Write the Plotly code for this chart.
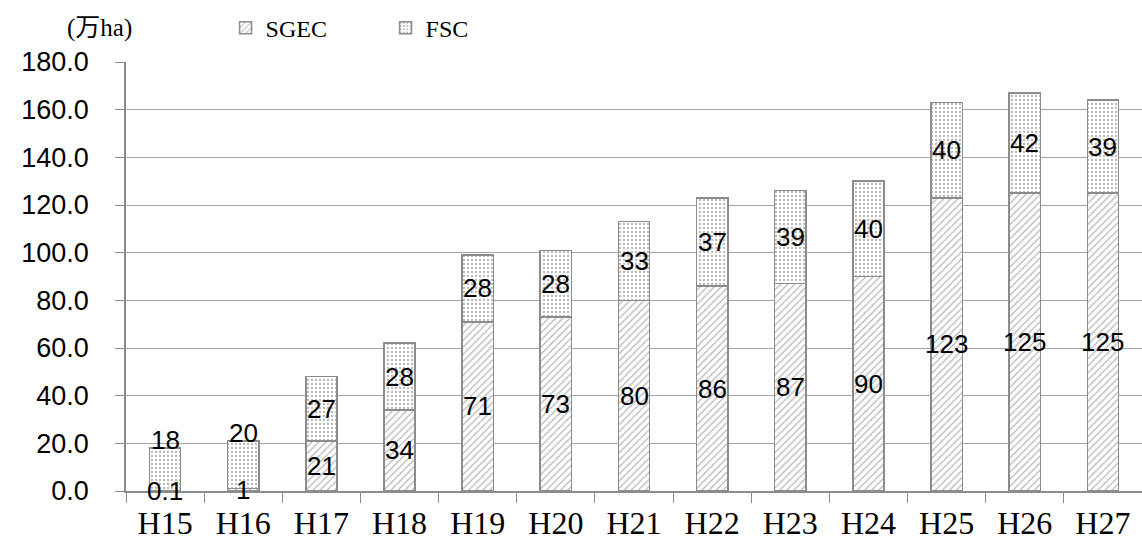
import plotly.graph_objects as go

categories = ["H15", "H16", "H17", "H18", "H19", "H20", "H21", "H22", "H23", "H24", "H25", "H26", "H27"]
sgec = [0.1, 1, 21, 34, 71, 73, 80, 86, 87, 90, 123, 125, 125]
fsc = [18, 20, 27, 28, 28, 28, 33, 37, 39, 40, 40, 42, 39]
y_ticks = [0, 20, 40, 60, 80, 100, 120, 140, 160, 180]

LINE = "#8c8c8c"
SANS = "Liberation Sans, Arial, sans-serif"
SERIF = "Liberation Serif, Noto Sans CJK JP, serif"

fig = go.Figure()
fig.add_trace(go.Bar(
    x=categories, y=sgec, name="SGEC",
    marker=dict(color="white", line=dict(color=LINE, width=1.5),
                pattern=dict(shape="/", fgcolor="#6e6e6e", bgcolor="white", size=5, solidity=0.25)),
))
fig.add_trace(go.Bar(
    x=categories, y=fsc, name="FSC",
    marker=dict(color="white", line=dict(color=LINE, width=1.5),
                pattern=dict(shape=".", fgcolor="#6e6e6e", bgcolor="white", size=4, solidity=0.25)),
))

def fmt(v):
    return f"{v:g}"

for c, s, f in zip(categories, sgec, fsc):
    fig.add_annotation(x=c, y=s / 2, text=fmt(s), showarrow=False,
                       font=dict(family=SANS, size=26, color="black"), yanchor="middle")
    fy = s + f / 2 if s >= 5 else s + f + 3.5
    fig.add_annotation(x=c, y=fy, text=fmt(f), showarrow=False,
                       font=dict(family=SANS, size=26, color="black"), yanchor="middle")

fig.add_annotation(xref="paper", yref="paper", x=-0.026, y=1.079, text="(万ha)",
                   showarrow=False, xanchor="center", yanchor="middle",
                   font=dict(family=SERIF, size=25, color="black"))

fig.update_layout(
    width=1142, height=547,
    margin=dict(l=126, r=0, t=62, b=56),
    barmode="stack", bargap=0.6,
    plot_bgcolor="white", paper_bgcolor="white",
    showlegend=True,
    legend=dict(orientation="h", x=0.098, y=1.079, xanchor="left", yanchor="middle",
                traceorder="normal",
                font=dict(family=SERIF, size=24, color="black"), entrywidth=115,
                bgcolor="rgba(0,0,0,0)"),
    xaxis=dict(type="category", showline=True, linecolor=LINE, linewidth=1.5,
               ticks="outside", tickson="boundaries", ticklen=10, tickcolor=LINE,
               ticklabelstandoff=3,
               tickfont=dict(family=SERIF, size=32, color="black"), showgrid=False,
               automargin=False),
    yaxis=dict(range=[0, 180], tickvals=y_ticks, tickformat=".1f",
               showgrid=True, gridcolor="#a6a6a6", gridwidth=1,
               showline=True, linecolor=LINE, linewidth=1.5,
               ticks="outside", ticklen=9, tickcolor=LINE, ticklabelstandoff=21,
               tickfont=dict(family=SANS, size=27, color="black"), zeroline=False,
               automargin=False),
)

fig.write_html("out.html", config={"displayModeBar": False},
               post_script="document.body.style.margin='0';document.body.style.overflow='hidden';")
